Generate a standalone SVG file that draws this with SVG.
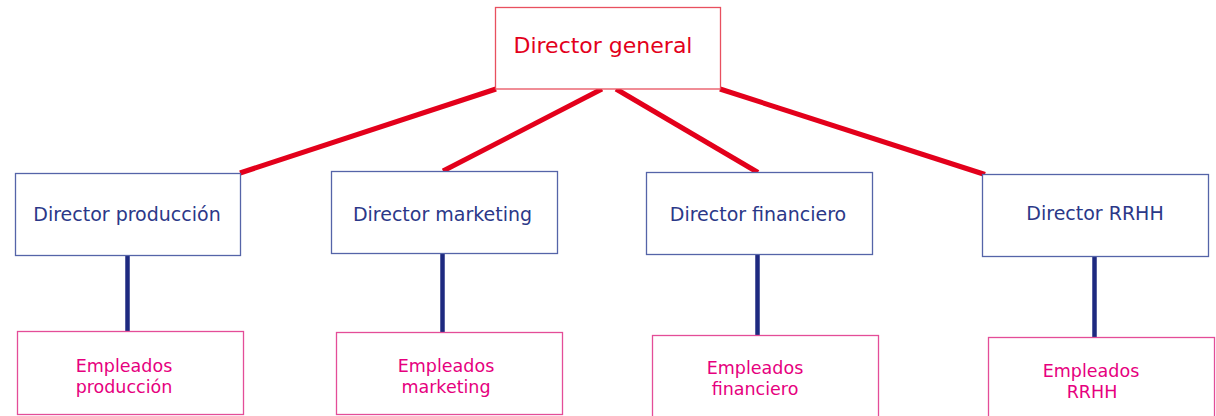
<svg xmlns="http://www.w3.org/2000/svg" width="1216" height="416" viewBox="0 0 1216 416">
<style>
.bg{fill:#ffffff}
.top rect{fill:#ffffff;stroke:#e8505f;stroke-width:1.3}
.top text{fill:#e3001b;font-family:"DejaVu Sans",Verdana,sans-serif;font-size:22px;text-anchor:middle}
.dir rect{fill:#ffffff;stroke:#5564a8;stroke-width:1.3}
.dir text{fill:#2b3888;font-family:"DejaVu Sans",Verdana,sans-serif;font-size:19px;text-anchor:middle}
.emp rect{fill:#ffffff;stroke:#e44d98;stroke-width:1.3}
.emp text{fill:#e6007e;font-family:"DejaVu Sans",Verdana,sans-serif;font-size:17.5px;text-anchor:middle}
.red{stroke:#e3001b;stroke-width:5;stroke-linecap:butt}
.navy{stroke:#1e2a80;stroke-width:4.5}
</style>
<rect class="bg" x="0" y="0" width="1216" height="416"/>
<g id="connectors">
<line class="red" x1="496" y1="89" x2="240" y2="173"/>
<line class="red" x1="602" y1="89" x2="443" y2="171"/>
<line class="red" x1="616" y1="89" x2="758" y2="172.5"/>
<line class="red" x1="720" y1="89" x2="985" y2="174.5"/>
<line class="navy" x1="127.5" y1="255" x2="127.5" y2="332"/>
<line class="navy" x1="442.5" y1="253" x2="442.5" y2="333"/>
<line class="navy" x1="757.5" y1="254" x2="757.5" y2="336"/>
<line class="navy" x1="1094.5" y1="256" x2="1094.5" y2="338"/>
</g>
<g id="director-general" class="top">
<rect x="495.5" y="7.5" width="225" height="81.5"/>
<text x="603" y="53">Director general</text>
</g>
<g id="director-produccion" class="dir">
<rect x="15.5" y="173.5" width="225" height="82"/>
<text x="127" y="221">Director producción</text>
</g>
<g id="director-marketing" class="dir">
<rect x="331.5" y="171.5" width="226" height="82"/>
<text x="442.5" y="220.5">Director marketing</text>
</g>
<g id="director-financiero" class="dir">
<rect x="646.5" y="172.5" width="226" height="82"/>
<text x="758" y="220.5">Director financiero</text>
</g>
<g id="director-rrhh" class="dir">
<rect x="982.5" y="174.5" width="226" height="82"/>
<text x="1095" y="219.5">Director RRHH</text>
</g>
<g id="empleados-produccion" class="emp">
<rect x="17.5" y="331.5" width="226" height="83"/>
<text x="124" y="372.3">Empleados</text>
<text x="124" y="392.8">producción</text>
</g>
<g id="empleados-marketing" class="emp">
<rect x="336.5" y="332.5" width="226" height="82"/>
<text x="446" y="372.3">Empleados</text>
<text x="446" y="392.8">marketing</text>
</g>
<g id="empleados-financiero" class="emp">
<rect x="652.5" y="335.5" width="226" height="85"/>
<text x="755" y="374">Empleados</text>
<text x="755" y="394.5">financiero</text>
</g>
<g id="empleados-rrhh" class="emp">
<rect x="988.5" y="337.5" width="226" height="85"/>
<text x="1091" y="377.3">Empleados</text>
<text x="1092" y="397.8">RRHH</text>
</g>
</svg>
